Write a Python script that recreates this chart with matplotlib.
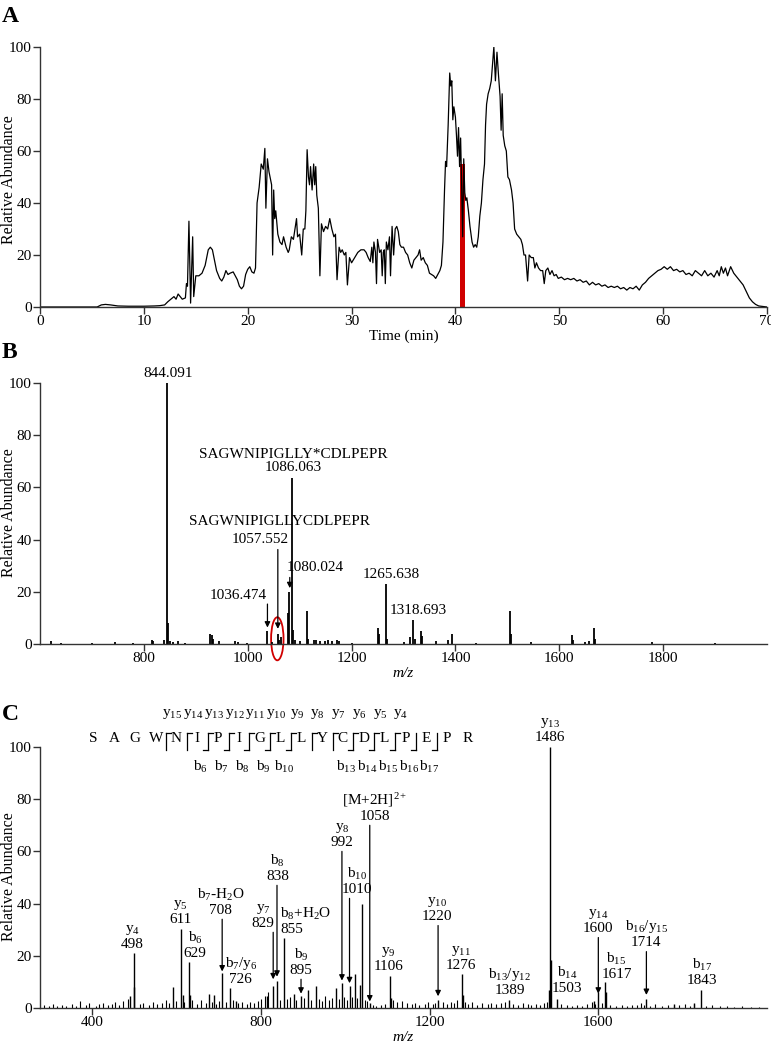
import matplotlib
matplotlib.use("Agg")
import matplotlib.pyplot as plt
from matplotlib.patches import Ellipse

plt.rcParams["font.family"] = "Liberation Serif"
plt.rcParams["mathtext.fontset"] = "custom"
plt.rcParams["mathtext.rm"] = "Liberation Serif"
plt.rcParams["mathtext.it"] = "Liberation Serif:italic"
plt.rcParams["mathtext.default"] = "regular"
plt.rcParams["font.size"] = 11

# ---- A: total ion chromatogram ----
time_min = [0, 5.5, 5.9, 6.3, 6.8, 7.5, 8.5, 10, 11, 11.5, 12.0, 12.3, 12.6, 12.9, 13.1, 13.3,
            13.5, 13.7, 14.0, 14.1, 14.2, 14.34, 14.5, 14.7, 14.8, 15.0, 15.3, 15.6, 15.9, 16.2,
            16.4, 16.6, 16.8, 17.0, 17.3, 17.5, 17.7, 17.9, 18.1, 18.3, 18.6, 18.8, 19.0, 19.2,
            19.4, 19.6, 19.8, 20.0, 20.2, 20.4, 20.6, 20.75, 20.9, 21.1, 21.3, 21.5, 21.65, 21.75,
            21.9, 22.05, 22.2, 22.3, 22.4, 22.5, 22.6, 22.7, 22.9, 23.1, 23.3, 23.45, 23.7, 23.9,
            24.0, 24.2, 24.4, 24.55, 24.7, 24.8, 25.0, 25.2, 25.35, 25.5, 25.6, 25.72, 25.85,
            25.95, 26.05, 26.2, 26.35, 26.45, 26.55, 26.65, 26.8, 26.95, 27.1, 27.3, 27.5, 27.7,
            27.9, 28.1, 28.3, 28.45, 28.6, 28.8, 28.95, 29.1, 29.3, 29.45, 29.6, 29.8, 30.0, 30.3,
            30.6, 30.9, 31.2, 31.4, 31.6, 31.8, 31.95, 32.05, 32.15, 32.3, 32.4, 32.5, 32.7, 32.85,
            32.95, 33.05, 33.15, 33.25, 33.35, 33.5, 33.65, 33.75, 33.9, 34.05, 34.2, 34.35, 34.5,
            34.65, 34.8, 35.0, 35.2, 35.4, 35.6, 35.8, 36.0, 36.2, 36.4, 36.55, 36.7, 36.9, 37.1,
            37.3, 37.5, 37.7, 37.9, 38.1, 38.3, 38.5, 38.65, 38.8, 38.95, 39.05, 39.15, 39.3,
            39.45, 39.55, 39.65, 39.75, 39.85, 40.0, 40.1, 40.2, 40.3, 40.4, 40.5, 40.6, 40.7,
            40.8, 40.9, 41.0, 41.1, 41.25, 41.4, 41.5, 41.6, 41.75, 41.9, 42.05, 42.2, 42.35, 42.5,
            42.65, 42.8, 42.9, 43.0, 43.15, 43.3, 43.45, 43.55, 43.7, 43.85, 44.0, 44.15, 44.3,
            44.4, 44.5, 44.6, 44.75, 44.9, 45.05, 45.2, 45.4, 45.55, 45.7, 45.9, 46.1, 46.3, 46.45,
            46.6, 46.75, 46.85, 46.95, 47.1, 47.3, 47.5, 47.65, 47.8, 48.0, 48.2, 48.4, 48.55,
            48.7, 48.9, 49.1, 49.3, 49.5, 49.7, 49.9, 50.2, 50.5, 50.8, 51.1, 51.4, 51.7, 52.0,
            52.3, 52.6, 52.9, 53.2, 53.5, 53.8, 54.1, 54.4, 54.7, 55.0, 55.3, 55.6, 55.9, 56.2,
            56.5, 56.8, 57.1, 57.4, 57.7, 58.0, 58.3, 58.6, 58.9, 59.2, 59.5, 59.8, 60.1, 60.4,
            60.7, 61.0, 61.3, 61.6, 61.9, 62.2, 62.5, 62.8, 63.1, 63.4, 63.7, 64.0, 64.3, 64.6,
            64.9, 65.2, 65.4, 65.6, 65.8, 66.0, 66.2, 66.5, 66.8, 67.1, 67.4, 67.7, 68.0, 68.3,
            68.6, 68.9, 69.2, 69.6, 70.0]
rel_abund = [0, 0, 0.8, 1.0, 0.8, 0.4, 0.3, 0.3, 0.4, 0.5, 0.8, 2, 3, 4, 3, 5,
             4, 3, 3.5, 9, 8, 33, 1.5, 27, 4, 12, 12, 13, 16, 22,
             23, 22, 18, 14, 11, 10, 11.5, 14, 12.5, 13, 13.5, 12, 10.5, 8,
             7, 8, 12.5, 14.5, 15.5, 13.5, 13, 15, 40, 46, 55, 53, 61, 38,
             57, 52, 49, 47, 20, 45, 34, 37, 28, 25, 24, 27, 23, 21,
             22, 27, 26, 30, 34, 27, 28, 20, 30, 30, 37, 60.5, 50,
             47, 54, 45, 55, 47, 54, 43, 38, 12, 32, 29, 31, 30,
             34, 30, 27, 28, 10.5, 23, 21, 22, 20, 21, 8.5, 19, 17, 19,
             21, 22, 22, 21, 19, 17.5, 23, 17, 25, 21, 9, 26, 21, 22,
             12, 21, 22, 9, 25, 22, 27, 12, 31, 20, 30, 31, 29,
             24, 23, 23, 21, 20, 17, 15, 18, 19, 20, 22, 18, 19, 17,
             16, 13, 12.5, 12, 11, 12.5, 14, 16, 25, 45, 56, 54, 70,
             90, 85, 87, 72, 77, 73, 66, 58, 69, 54, 65, 46, 27,
             57, 44, 41, 42, 37, 31, 28, 25, 23, 24, 23, 27, 35, 40,
             49, 55, 70, 78, 82, 84, 87, 92, 100, 87, 98, 89, 81,
             68, 82, 66, 62, 60, 50, 49, 45, 40, 30, 28, 27, 26, 24,
             20, 20, 15, 10, 20, 19, 19, 15, 17, 15, 14, 14, 9,
             14, 15, 12.5, 14, 12, 12.5, 11, 11.5, 10.5, 11, 10.5, 11, 10, 10.5,
             9.5, 10, 8.5, 9.5, 8.5, 9, 8, 8.5, 7.5, 8, 7.5, 8, 7, 7.5,
             6.5, 7.5, 7, 8, 6.5, 8.5, 9.5, 11, 12, 13, 14, 14.5, 15.5, 14.5,
             15.5, 14, 14.5, 13.5, 14, 12.5, 13, 12, 14, 13, 12, 14, 12, 13,
             11.5, 14, 12, 15.5, 13, 15, 12, 15.5, 13, 11.5, 10, 8.5, 6, 3.5,
             2, 1, 0.4, 0.2, 0]
selected_scan_time = 40.65
selected_scan_height = 55

# ---- B: full MS scan ----
ms_mz = [622, 640, 700, 745, 780, 816, 818, 839, 844.1, 846, 850, 856, 865, 880, 928, 931,
         934, 945, 975, 982, 998, 1036.5, 1047, 1057.6, 1060, 1065, 1078, 1080, 1086.1, 1088,
         1092, 1100, 1115, 1117, 1127, 1132, 1140, 1148, 1155, 1162, 1172, 1176, 1200, 1251.5,
         1253, 1265.6, 1268, 1300, 1312, 1318.7, 1323, 1334, 1336, 1363, 1386, 1394, 1440, 1505,
         1507, 1545, 1625, 1627, 1650, 1657, 1667, 1669, 1778, 1900]
ms_int = [1, 0.4, 0.4, 0.8, 0.4, 1.5, 1, 1.5, 100, 8, 1.2, 0.8, 1.2, 0.5, 4, 3.5,
          2, 1, 1, 0.8, 0.5, 5, 0.8, 4, 1.5, 2.5, 12, 20, 63.5, 5.5,
          1.5, 1, 12.5, 2, 1.5, 1.5, 1, 1, 1.5, 1, 1.5, 1, 0.5, 6,
          4, 23, 2, 0.6, 2.5, 9.2, 2, 5, 3, 1, 1.5, 3.8, 0.4, 12.8,
          4, 0.8, 3.5, 1.5, 0.8, 1, 6, 2, 0.8, 0.3]

# ---- C: MS/MS of the precursor ----
msms_mz = [489, 498, 500, 592, 611, 614, 629, 632, 676, 688, 708, 726, 740, 815, 829, 838,
           855, 878, 895, 912, 930, 979, 992, 1010, 1023, 1036, 1040, 1058, 1106, 1108, 1220,
           1276, 1278, 1389, 1484, 1486, 1488, 1503, 1590, 1600, 1617, 1619, 1714, 1780, 1827,
           1843]
msms_int = [4.5, 21, 8, 8, 30.4, 5, 17.5, 5, 5.5, 5, 13.5, 7.5, 2.5, 4.5, 8.5, 10.5,
            27, 5.5, 4.5, 7, 8.5, 7.5, 9.5, 8.5, 13, 9, 40, 2, 12.4, 4, 3,
            13, 5, 3, 7, 100, 18.4, 3.5, 2.5, 6, 10, 6, 3.5, 1.5, 2,
            7]
msms_grass = [(285, 1.0), (298, 0.6), (306, 1.4), (317, 0.8), (329, 1.2), (338, 0.7), (351, 1.5),
              (362, 0.9), (371, 2.5), (384, 1.1), (393, 1.8), (408, 0.9), (417, 1.6), (426, 2.0),
              (437, 1.0), (446, 1.7), (455, 2.2), (463, 1.1), (472, 2.6), (484, 3.5), (512, 1.4),
              (521, 2.0), (534, 1.3), (545, 2.4), (553, 1.6), (566, 2.1), (574, 3.0), (583, 1.8),
              (598, 2.6), (617, 2.2), (636, 2.9), (648, 1.5), (657, 3.2), (669, 2.0), (683, 2.4),
              (694, 1.7), (700, 2.8), (716, 2.2), (733, 3.0), (745, 1.9), (756, 2.4), (767, 1.6),
              (775, 2.2), (784, 1.8), (792, 2.6), (801, 3.4), (809, 4.5), (817, 6.0), (846, 3.0),
              (862, 3.5), (869, 4.2), (884, 3.0), (902, 4.0), (918, 3.2), (937, 3.6), (945, 2.8),
              (953, 4.5), (961, 3.0), (968, 4.0), (985, 3.6), (997, 4.2), (1003, 3.0), (1015, 4.4),
              (1028, 3.8), (1046, 3.2), (1052, 2.5), (1066, 1.2), (1072, 0.8), (1085, 1.0),
              (1093, 1.5), (1114, 3.0), (1122, 2.2), (1135, 2.6), (1146, 1.8), (1158, 1.5),
              (1166, 2.0), (1175, 1.2), (1188, 1.6), (1196, 2.2), (1207, 1.4), (1213, 2.0),
              (1232, 2.2), (1241, 1.6), (1250, 2.4), (1258, 2.0), (1266, 3.0), (1283, 2.2),
              (1292, 1.6), (1301, 2.4), (1313, 1.2), (1325, 1.8), (1338, 1.4), (1346, 2.0),
              (1357, 1.6), (1370, 1.8), (1378, 2.2), (1398, 1.6), (1410, 1.2), (1422, 1.8),
              (1433, 1.4), (1441, 1.0), (1452, 1.6), (1462, 1.2), (1470, 1.8), (1478, 2.2),
              (1512, 1.6), (1525, 1.0), (1538, 0.8), (1550, 1.2), (1561, 0.8), (1574, 1.6),
              (1584, 2.4), (1592, 1.4), (1608, 2.0), (1628, 1.2), (1641, 0.8), (1655, 1.2),
              (1668, 0.8), (1680, 1.0), (1692, 1.2), (1701, 1.8), (1708, 1.2), (1722, 0.8),
              (1735, 1.4), (1750, 0.6), (1766, 1.2), (1779, 0.8), (1792, 1.0), (1806, 1.4),
              (1818, 0.8), (1828, 1.6), (1856, 0.8), (1870, 1.0), (1889, 0.6), (1905, 0.7),
              (1922, 0.5), (1940, 0.6), (1961, 0.4), (1982, 0.5)]

ion_labels = ["y$_4$", "y$_5$", "b$_6$", "b$_7$-H$_2$O", "b$_7$/y$_6$", "y$_7$", "b$_8$",
              "b$_8$+H$_2$O", "b$_9$", "y$_8$", "b$_{10}$", "[M+2H]$^{2+}$", "y$_9$", "y$_{10}$",
              "y$_{11}$", "b$_{13}$/y$_{12}$", "y$_{13}$", "b$_{14}$", "y$_{14}$", "b$_{15}$",
              "b$_{16}$/y$_{15}$", "b$_{17}$"]
ion_mz = [498, 611, 629, 708, 726, 829, 838, 855, 895, 992, 1010, 1058, 1106, 1220, 1276,
          1389, 1486, 1503, 1600, 1617, 1714, 1843]

peptide = "SAGWNIPIGLLYCDLPEPR"
y_sites = [4, 5, 6, 7, 8, 9, 10, 11, 12, 13, 14, 15]
b_sites = [6, 7, 8, 9, 10, 13, 14, 15, 16, 17]

# label placement for C: (text x, text bottom, arrow tip or None, ha)
ion_layout = [(495, 22, None, "center"), (609, 31.5, None, "center"), (644, 18.5, None, "center"),
              (705, 35, 14, "center"), (752, 8.5, None, "center"), (805, 30, 11, "center"),
              (839, 48, 12, "center"), (846, 27.5, None, "left"), (895, 12, 5.5, "center"),
              (992, 61, 10.5, "center"), (1028, 43, 9.5, "center"), (1070, 71, 2.5, "center"),
              (1102, 13.4, None, "center"), (1218, 32.6, 4.5, "center"), (1275, 13.7, None, "center"),
              (1390, 4.2, None, "center"), (1486, 101, None, "center"), (1525, 5.1, None, "center"),
              (1599, 28, 5.5, "center"), (1643, 10.2, None, "center"), (1714, 22.6, 5, "center"),
              (1846, 8, None, "center")]

fig = plt.figure(figsize=(7.71, 10.5), dpi=100)
W, H = 771.0, 1050.0
axA = fig.add_axes([40 / W, 1 - 307 / H, 727 / W, 260 / H])
axB = fig.add_axes([40 / W, 1 - 644 / H, 727 / W, 261 / H])
axC = fig.add_axes([40 / W, 1 - 1008 / H, 727 / W, 261 / H])

for ax in (axA, axB, axC):
    ax.spines["top"].set_visible(False)
    ax.spines["right"].set_visible(False)
    for s in ("left", "bottom"):
        ax.spines[s].set_color("#333333")
        ax.spines[s].set_linewidth(1.0)
    ax.tick_params(direction="out", length=5, width=1, color="#333333", labelsize=11, pad=1)
    ax.set_ylim(0, 100)
    ax.set_yticks([0, 20, 40, 60, 80, 100])
    ax.set_facecolor("none")

# A
axA.bar(selected_scan_time, selected_scan_height, width=0.45, color="#d00000", zorder=1)
axA.plot(time_min, rel_abund, color="black", lw=0.9, zorder=2)
axA.set_xlim(0, 70)
axA.set_xticks(range(0, 71, 10))
axA.set_xlabel("Time (min)", fontsize=11, labelpad=1)

# B
axB.vlines(ms_mz, 0, ms_int, color="black", lw=1.3)
axB.set_xlim(600, 2000)
axB.set_xticks([800, 1000, 1200, 1400, 1600, 1800])
axB.set_xlabel("m/z", fontsize=11, fontstyle="italic", labelpad=1)

arrow_kw = dict(arrowstyle="-|>", color="black", lw=0.9, mutation_scale=8, shrinkA=0, shrinkB=0)
axB.text(847, 101, "844.091", ha="center", va="bottom")
axB.text(1088, 65, "SAGWNIPIGLLY*CDLPEPR\n1086.063", ha="center", va="bottom", linespacing=1.05)
axB.text(1061, 44.4, "SAGWNIPIGLLYCDLPEPR", ha="center", va="bottom")
axB.text(1025, 37.6, "1057.552", ha="center", va="bottom")
axB.annotate("", xy=(1058, 5.8), xytext=(1058, 36.2), arrowprops=arrow_kw)
axB.text(981, 16.2, "1036.474", ha="center", va="bottom")
axB.annotate("", xy=(1038, 6.3), xytext=(1038, 15.3), arrowprops=arrow_kw)
axB.text(1130, 26.9, "1080.024", ha="center", va="bottom")
axB.annotate("", xy=(1081, 21.4), xytext=(1081, 25.5), arrowprops=arrow_kw)
axB.text(1277, 24.3, "1265.638", ha="center", va="bottom")
axB.text(1328, 10.2, "1318.693", ha="center", va="bottom")
axB.add_patch(Ellipse((1057, 2), width=24, height=16.5, fill=False, edgecolor="#d00000",
                      lw=1.3, clip_on=False))

# C
axC.vlines([m for m, _ in msms_grass], 0, [v for _, v in msms_grass], color="black", lw=0.8)
axC.vlines(msms_mz, 0, msms_int, color="black", lw=1.0)
axC.set_xlim(276, 2000)
axC.set_xticks([400, 800, 1200, 1600])
axC.set_xlabel("m/z", fontsize=11, fontstyle="italic", labelpad=1)

for lab, mz, (tx, ty, tip, ha) in zip(ion_labels, ion_mz, ion_layout):
    axC.text(tx, ty, lab + "\n" + str(mz), ha=ha, va="bottom", linespacing=1.1)
    if tip is not None:
        axC.annotate("", xy=(mz, tip), xytext=(mz, ty - 1), arrowprops=arrow_kw)

# peptide sequence with fragment brackets (axes fraction coords)
x0, dx = 53.3 / 727, 20.8 / 727
yl, ytop, ybot = 1.0307, 1.0536, 0.9885
hl = 5 / 727
for i, aa in enumerate(peptide):
    axC.text(x0 + i * dx, yl, aa, transform=axC.transAxes, ha="center", va="center",
             clip_on=False)
for site in sorted(set(y_sites) | set(b_sites)):
    xc = x0 + (site - 0.5) * dx
    axC.plot([xc, xc], [ybot, ytop], transform=axC.transAxes, color="black", lw=0.9,
             clip_on=False)
    if site in y_sites:
        axC.plot([xc, xc + hl], [ytop, ytop], transform=axC.transAxes, color="black", lw=0.9,
                 clip_on=False)
        axC.text(xc + 6 / 727, 1.1264, "y$_{%d}$" % (len(peptide) - site), transform=axC.transAxes,
                 ha="center", va="center", clip_on=False)
    if site in b_sites:
        axC.plot([xc - hl, xc], [ybot, ybot], transform=axC.transAxes, color="black", lw=0.9,
                 clip_on=False)
        axC.text(xc - 7 / 727, 0.9246, "b$_{%d}$" % site, transform=axC.transAxes,
                 ha="center", va="center", clip_on=False)

for ax, yc in ((axA, 180), (axB, 513), (axC, 877)):
    fig.text(9 / W, 1 - yc / H, "Relative Abundance", rotation=90, ha="center", va="center",
             fontsize=11.5)

for lab, yc in (("A", 16), ("B", 353), ("C", 714)):
    fig.text(2 / W, 1 - yc / H, lab, fontsize=17, fontweight="bold", ha="left", va="center")

fig.savefig("out.png", dpi=100)
